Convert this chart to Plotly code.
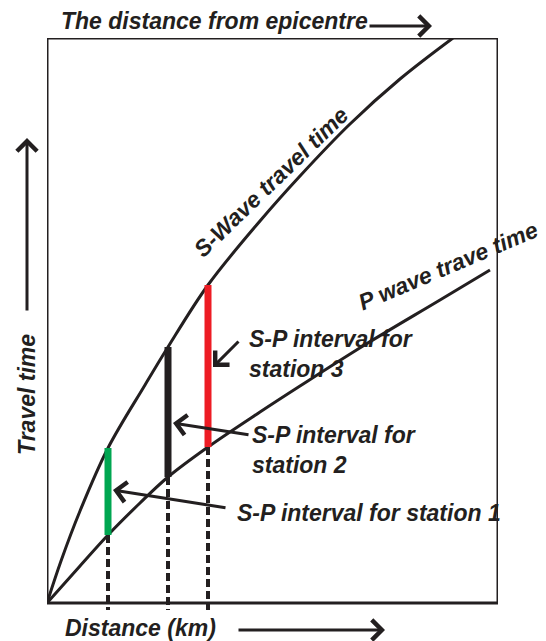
import plotly.graph_objects as go

# travel-time curves (distance in arbitrary km units, time in arbitrary units)
s_dist = [0, 14, 33, 61, 98, 121, 161, 213, 253, 303, 353, 406]
s_time = [0, 42, 92, 155, 218, 256, 318, 382, 427, 479, 524, 565]
p_dist = [0, 33, 61, 93, 121, 161, 213, 253, 316, 393, 443]
p_time = [0, 37, 68, 100, 126, 156, 191, 217, 257, 303, 333]

# stations: distance, S arrival, P arrival
stations = ["station 1", "station 2", "station 3"]
st_dist = [61, 121, 161]
st_s = [155, 256, 318]
st_p = [68, 126, 156]
st_colors = ["#00A651", "#231F20", "#ED1C24"]

X_MAX, Y_MIN, Y_MAX = 451, -12, 565

def px(x):  # data x -> paper x
    return x / X_MAX

def py(y):  # data y -> paper y
    return (y - Y_MIN) / (Y_MAX - Y_MIN)

ink = "#231F20"
font = dict(family="Liberation Sans, Arial, sans-serif", size=23, color=ink,
            weight="bold", style="italic")

fig = go.Figure()

fig.add_trace(go.Scatter(x=s_dist, y=s_time, mode="lines", line_shape="spline",
                         line=dict(color=ink, width=3), hoverinfo="skip"))
fig.add_trace(go.Scatter(x=p_dist, y=p_time, mode="lines", line_shape="spline",
                         line=dict(color=ink, width=3), hoverinfo="skip"))

for d, s, p, c in zip(st_dist, st_s, st_p, st_colors):
    # dotted drop line to the distance axis
    fig.add_trace(go.Scatter(x=[d, d], y=[p, -7], mode="lines",
                             line=dict(color=ink, width=4, dash="8px,4px"), hoverinfo="skip"))
    # S-P interval bar
    fig.add_trace(go.Scatter(x=[d, d], y=[p, s], mode="lines",
                             line=dict(color=c, width=7), hoverinfo="skip"))

# frame
fig.add_shape(type="rect", x0=0, x1=X_MAX, y0=0, y1=Y_MAX, xref="x", yref="y",
              line=dict(color=ink, width=3), layer="above")

arrow = dict(showarrow=True, arrowhead=4, arrowsize=1.3, arrowwidth=3,
             arrowcolor=ink, axref="pixel", ayref="pixel", text="",
             xref="paper", yref="paper")

# pointers from labels to the S-P bars
fig.add_annotation(x=px(66), y=py(113), ax=114, ay=18, **arrow)
fig.add_annotation(x=px(126), y=py(180), ax=77, ay=12, **arrow)
fig.add_annotation(x=px(166), y=py(236), ax=27, ay=-27, **arrow)

# direction arrows
fig.add_annotation(x=px(-20), y=py(465), ax=0, ay=174, **arrow)
fig.add_annotation(x=px(338), y=py(-27), ax=-148, ay=0, **arrow)
fig.add_annotation(x=px(385), y=py(577), ax=-64, ay=0, **arrow)

txt = dict(showarrow=False, font=font, xref="paper", yref="paper",
           xanchor="center", yanchor="middle")
fig.add_annotation(x=px(167), y=py(582), text="The distance from epicentre", **txt)
fig.add_annotation(x=px(93), y=py(-25), text="Distance (km)", **txt)
fig.add_annotation(x=px(-20), y=py(208), text="Travel time", textangle=-90, **txt)
fig.add_annotation(x=px(224), y=py(421), text="S-Wave travel time", textangle=-44, **txt)
fig.add_annotation(x=px(401), y=py(337), text="P wave trave time", textangle=-23, **txt)

lbl = dict(txt, xanchor="left", align="left")
fig.add_annotation(x=px(200), y=py(249), text="S-P interval for<br>" + stations[2], **lbl)
fig.add_annotation(x=px(203), y=py(153), text="S-P interval for<br>" + stations[1], **lbl)
fig.add_annotation(x=px(188), y=py(90), text="S-P interval for " + stations[0], **lbl)

fig.update_xaxes(range=[0, X_MAX], visible=False)
fig.update_yaxes(range=[Y_MIN, Y_MAX], visible=False)
fig.update_layout(width=546, height=641, showlegend=False,
                  margin=dict(l=39, r=56, t=30, b=34),
                  plot_bgcolor="white", paper_bgcolor="white")

fig.write_html("out.html")
